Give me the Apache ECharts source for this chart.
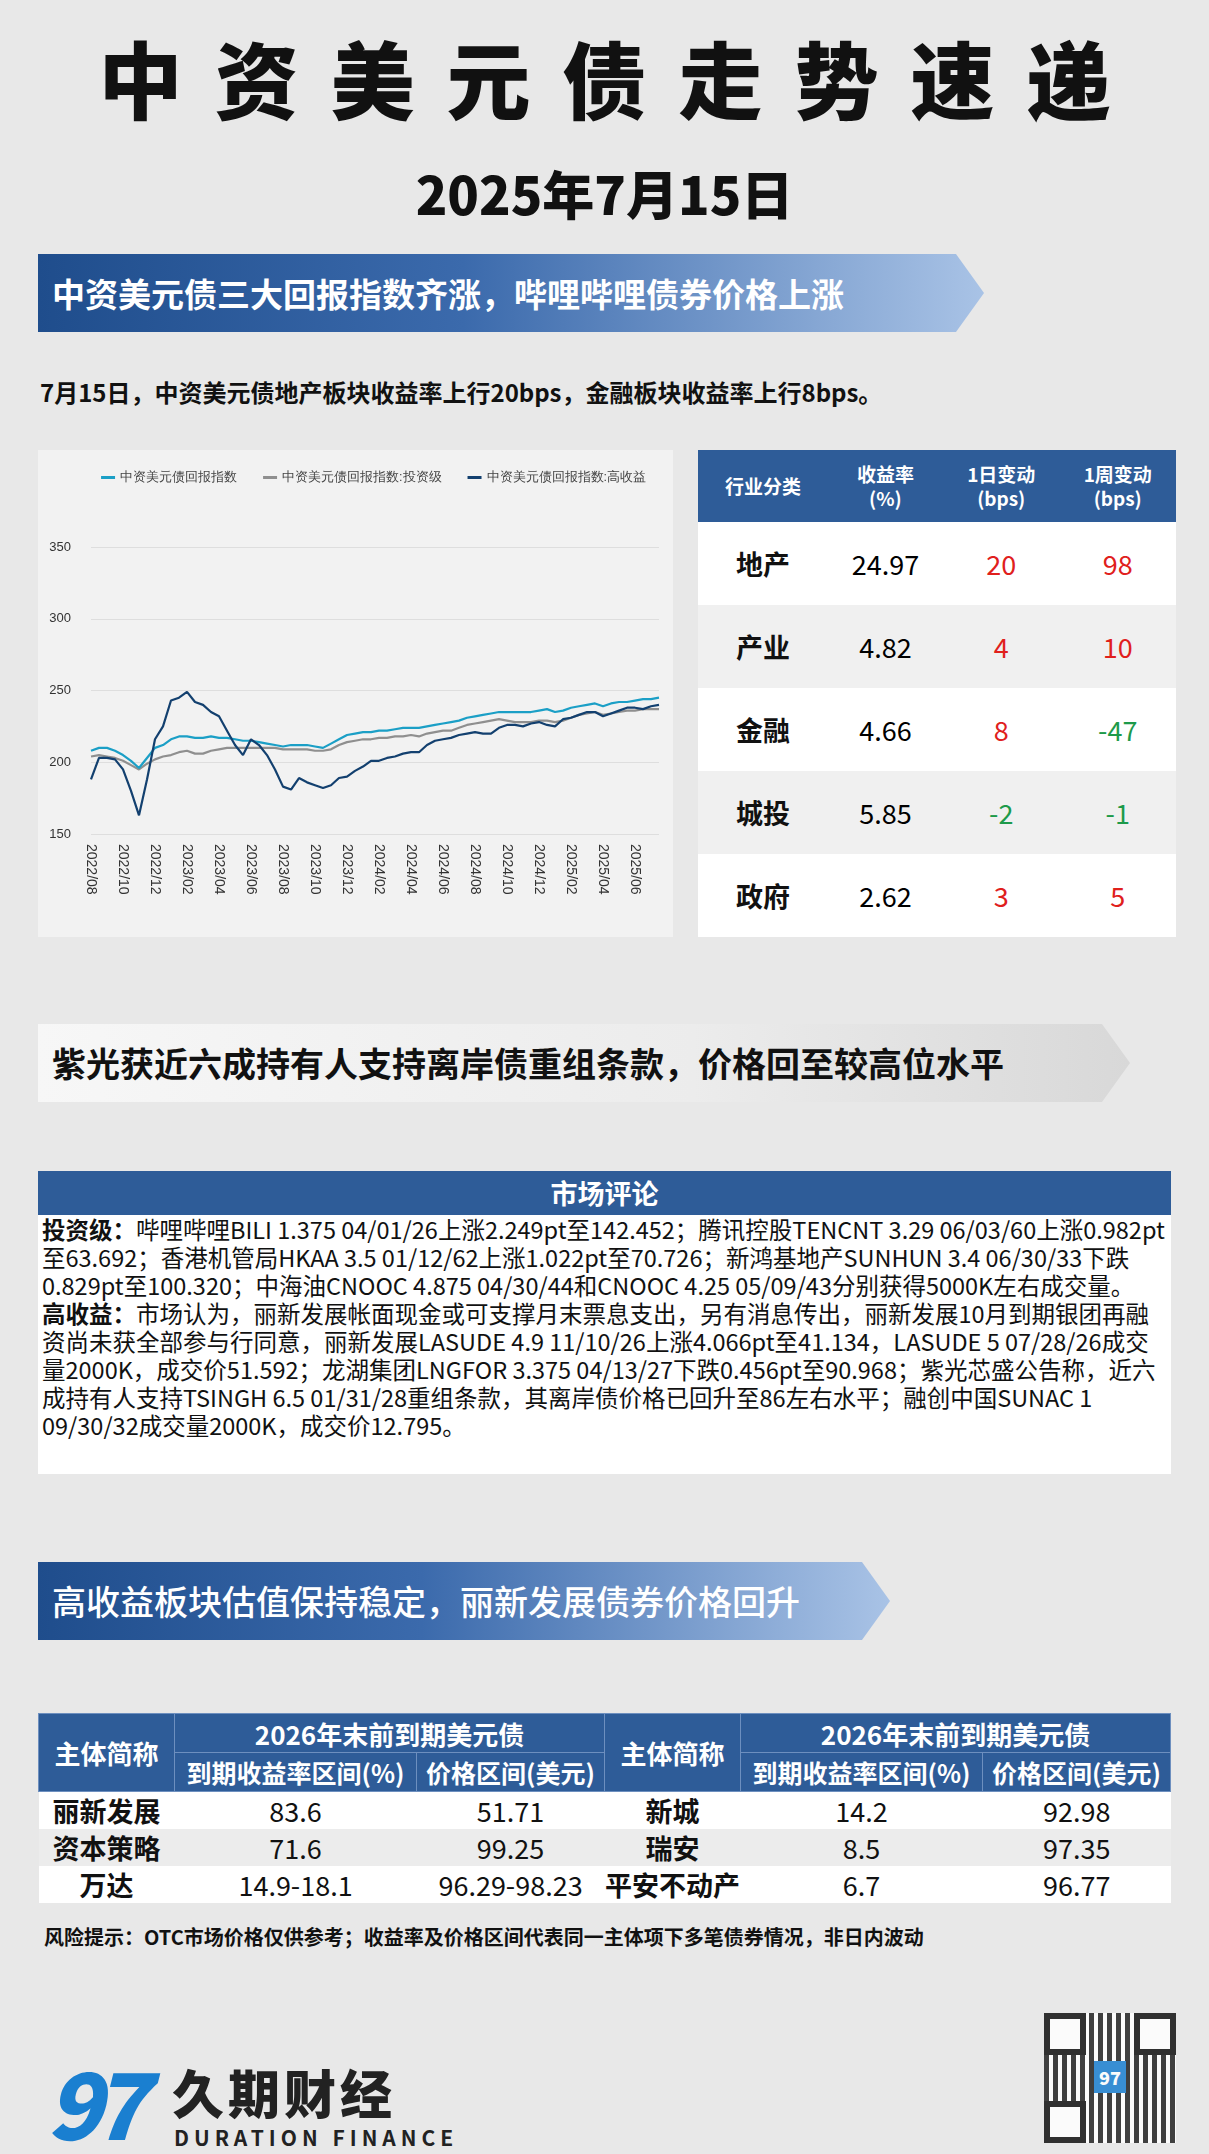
<!DOCTYPE html>
<html><head><meta charset="utf-8">
<script src="https://cdn.jsdelivr.net/npm/echarts@6/dist/echarts.min.js"></script>
<style>
body{margin:0;width:1209px;height:2154px;background:#e8e8e8;font-family:"Noto Sans CJK SC","Noto Sans",sans-serif;position:relative;overflow:hidden}
.abs{position:absolute}
.title{left:0;width:1209px;top:22px;text-align:center;font-size:84px;font-weight:900;letter-spacing:32px;text-indent:32px;color:#111;line-height:110px}
.date{left:0;width:1209px;top:158px;text-align:center;font-size:52px;font-weight:900;color:#111;line-height:70px}
.banner{height:78px;color:#fff;font-weight:700;font-size:33px;line-height:78px;padding-left:14px;box-sizing:border-box;overflow:hidden;white-space:nowrap;
 clip-path:polygon(0 0,calc(100% - 28px) 0,100% 50%,calc(100% - 28px) 100%,0 100%)}
.blue{background:linear-gradient(90deg,#1f4d8c 0%,#3b6aac 45%,#a9c3e6 100%)}
.grey{background:linear-gradient(90deg,#f7f7f7 0%,#ececec 60%,#d8d8d8 100%);color:#111}
.sub{left:40px;top:374px;font-size:24px;font-weight:700;color:#111}
table{border-collapse:collapse}
#t1{left:698px;top:450px;width:478px}
#t1 th{background:#2e5c98;color:#fff;font-size:19px;font-weight:700;height:72px;line-height:24px;padding:0}
#t1 td{height:83px;text-align:center;font-size:27px;padding:0;line-height:30px}
#t1 tr:nth-child(odd) td{background:#f0f0f0}
#t1 tr:nth-child(even) td{background:#fff}
#t1 td.n{font-weight:700;color:#111}
.up{color:#e0201c}.dn{color:#1d9a4a}
.mk{left:38px;top:1171px;width:1133px}
.mkh{background:#2e5c98;color:#fff;text-align:center;font-size:27px;font-weight:700;height:44px;line-height:44px}
.mkb{background:#fff;padding:0 4px 4px 4px;font-size:23.5px;line-height:28px;color:#111;height:259px;box-sizing:border-box}
#t2{left:38px;top:1713px;width:1133px}
#t2 th{background:#2e5c98;color:#fff;font-weight:700;font-size:25px;border:1px solid #6d8fbf;padding:0}
#t2 td{text-align:center;font-size:27px;height:37px;line-height:37px;color:#111;padding:0}
#t2 tbody tr:nth-child(odd) td{background:#fff}
#t2 tbody tr:nth-child(even) td{background:#ececec}
#t2 td.n{font-weight:700}
.risk{left:44px;top:1922px;font-size:20px;font-weight:700;color:#111}
</style></head><body>
<div class="abs title">中资美元债走势速递</div>
<div class="abs date">2025年7月15日</div>
<div class="abs banner blue" style="left:38px;top:254px;width:946px">中资美元债三大回报指数齐涨，哔哩哔哩债券价格上涨</div>
<div class="abs sub">7月15日，中资美元债地产板块收益率上行20bps，金融板块收益率上行8bps。</div>
<div class="abs" id="chart" style="left:38px;top:450px;width:635px;height:487px;background:#f2f2f2"></div>
<table class="abs" id="t1"></table>
<div class="abs banner grey" style="left:38px;top:1024px;width:1092px;font-size:34px">紫光获近六成持有人支持离岸债重组条款，价格回至较高位水平</div>
<div class="abs mk"><div class="mkh">市场评论</div><div class="mkb">
<b>投资级：</b>哔哩哔哩BILI 1.375 04/01/26上涨2.249pt至142.452；腾讯控股TENCNT 3.29 06/03/60上涨0.982pt至63.692；香港机管局HKAA 3.5 01/12/62上涨1.022pt至70.726；新鸿基地产SUNHUN 3.4 06/30/33下跌0.829pt至100.320；中海油CNOOC 4.875 04/30/44和CNOOC 4.25 05/09/43分别获得5000K左右成交量。<br>
<b>高收益：</b>市场认为，丽新发展帐面现金或可支撑月末票息支出，另有消息传出，丽新发展10月到期银团再融资尚未获全部参与行同意，丽新发展LASUDE 4.9 11/10/26上涨4.066pt至41.134，LASUDE 5 07/28/26成交量2000K，成交价51.592；龙湖集团LNGFOR 3.375 04/13/27下跌0.456pt至90.968；紫光芯盛公告称，近六成持有人支持TSINGH 6.5 01/31/28重组条款，其离岸债价格已回升至86左右水平；融创中国SUNAC 1 09/30/32成交量2000K，成交价12.795。</div></div>
<div class="abs banner blue" style="left:38px;top:1562px;width:852px;font-weight:500;font-size:34px">高收益板块估值保持稳定，丽新发展债券价格回升</div>
<table class="abs" id="t2"></table>
<div class="abs risk">风险提示：OTC市场价格仅供参考；收益率及价格区间代表同一主体项下多笔债券情况，非日内波动</div>
<div class="abs" style="left:46px;top:2050px;font-size:92px;font-weight:900;font-style:italic;color:#1a7fd0;letter-spacing:-10px;line-height:100px">97</div>
<div class="abs" style="left:172px;top:2060px;font-size:52px;font-weight:900;color:#222;letter-spacing:4px;line-height:64px">久期财经</div>
<div class="abs" style="left:174px;top:2122px;font-size:21px;font-weight:700;color:#222;letter-spacing:5px">DURATION FINANCE</div>
<div class="abs" style="left:1044px;top:2013px;width:132px;height:130px;background:repeating-linear-gradient(90deg,#222 0 5px,#fff 5px 9px),#fff;opacity:.85">
<div class="abs" style="left:0;top:0;width:30px;height:30px;border:6px solid #111;background:#fff"></div>
<div class="abs" style="right:0;top:0;width:30px;height:30px;border:6px solid #111;background:#fff"></div>
<div class="abs" style="left:0;bottom:0;width:30px;height:30px;border:6px solid #111;background:#fff"></div>
<div class="abs" style="left:50px;top:48px;width:32px;height:32px;background:#1a7fd0;color:#fff;font-size:18px;text-align:center;line-height:32px;font-weight:900">97</div>
</div>
<script>
var dates = [];
var months = ['2022/08','2022/09','2022/10','2022/11','2022/12','2023/01','2023/02','2023/03','2023/04','2023/05','2023/06','2023/07','2023/08','2023/09','2023/10','2023/11','2023/12','2024/01','2024/02','2024/03','2024/04','2024/05','2024/06','2024/07','2024/08','2024/09','2024/10','2024/11','2024/12','2025/01','2025/02','2025/03','2025/04','2025/05','2025/06','2025/07'];
months.forEach(function (m) { dates.push(m + '/01'); dates.push(m + '/15'); });
var seriesNames = ['中资美元债回报指数', '中资美元债回报指数:投资级', '中资美元债回报指数:高收益'];
var totalIdx = [208,210,210,208,205,201,196,203,210,212,216,218,218,217,217,218,217,217,216,215,215,214,213,212,211,212,212,212,211,210,213,216,219,220,221,221,222,222,223,224,224,224,225,226,227,228,229,231,232,233,234,235,235,235,235,235,236,237,235,236,238,239,240,241,239,241,242,242,243,244,244,245];
var igIdx = [204,205,204,203,201,198,195,199,202,204,205,207,208,206,206,208,209,210,210,210,210,210,210,210,209,209,209,209,208,208,209,212,214,215,216,216,217,217,218,218,219,218,220,221,222,222,224,226,227,228,229,230,229,228,228,228,229,229,228,229,231,233,234,235,233,234,235,236,236,237,237,237];
var hyIdx = [188,203,203,202,195,180,163,188,216,225,243,245,249,242,240,235,232,222,212,205,216,212,205,195,183,181,189,186,184,182,184,189,190,194,197,201,201,203,204,206,207,207,212,215,216,217,219,220,221,220,220,224,226,226,225,227,228,226,225,230,231,233,235,235,232,234,236,238,238,237,239,240];
var colors = ['#1b9fc6', '#8f8f8f', '#13406f'];

var sectors = ['地产', '产业', '金融', '城投', '政府'];
var yields = ['24.97', '4.82', '4.66', '5.85', '2.62'];
var chg1d = [20, 4, 8, -2, 3];
var chg1w = [98, 10, -47, -1, 5];

var t2Left = [['丽新发展','83.6','51.71'],['资本策略','71.6','99.25'],['万达','14.9-18.1','96.29-98.23']];
var t2Right = [['新城','14.2','92.98'],['瑞安','8.5','97.35'],['平安不动产','6.7','96.77']];

var h = '<tr><th>行业分类</th><th>收益率<br>(%)</th><th>1日变动<br>(bps)</th><th>1周变动<br>(bps)</th></tr>';
sectors.forEach(function (s, i) {
    h += '<tr><td class="n">' + s + '</td><td>' + yields[i] + '</td><td class="' + (chg1d[i] < 0 ? 'dn' : 'up') + '">' + chg1d[i] +
        '</td><td class="' + (chg1w[i] < 0 ? 'dn' : 'up') + '">' + chg1w[i] + '</td></tr>';
});
document.getElementById('t1').innerHTML = h;

var h2 = '<thead><tr><th rowspan="2" style="width:135px;font-size:26px">主体简称</th><th colspan="2" style="font-size:26px;height:38px">2026年末前到期美元债</th>' +
    '<th rowspan="2" style="width:135px;font-size:26px">主体简称</th><th colspan="2" style="font-size:26px">2026年末前到期美元债</th></tr>' +
    '<tr><th style="height:38px">到期收益率区间(%)</th><th>价格区间(美元)</th><th>到期收益率区间(%)</th><th>价格区间(美元)</th></tr></thead><tbody>';
t2Left.forEach(function (r, i) {
    var q = t2Right[i];
    h2 += '<tr><td class="n">' + r[0] + '</td><td>' + r[1] + '</td><td>' + r[2] + '</td><td class="n">' + q[0] + '</td><td>' + q[1] + '</td><td style="text-align:right;padding-right:60px">' + q[2] + '</td></tr>';
});
document.getElementById('t2').innerHTML = h2 + '</tbody>';

var myChart = echarts.init(document.getElementById('chart'));
var data = [totalIdx, igIdx, hyIdx];
myChart.setOption({
    animation: false,
    color: colors,
    legend: {
        top: 16, right: 22, itemWidth: 14, itemHeight: 3, itemGap: 26,
        icon: 'rect', textStyle: {fontSize: 12.5, color: '#444'},
        data: seriesNames
    },
    grid: {left: 53, right: 14, top: 97, bottom: 103},
    xAxis: {
        type: 'category', data: dates, boundaryGap: false,
        axisLine: {show: false}, axisTick: {show: false},
        axisLabel: {
            rotate: -90, fontSize: 14, color: '#333', margin: 10,
            interval: function (i) { return i % 4 === 0; },
            formatter: function (v) { return v.substr(0, 7); }
        }
    },
    yAxis: {
        type: 'value', min: 150, max: 350, interval: 50,
        axisLine: {show: false}, axisTick: {show: false},
        axisLabel: {fontSize: 13, color: '#333', margin: 20},
        splitLine: {lineStyle: {color: '#dedede'}}
    },
    series: seriesNames.map(function (n, i) {
        return {name: n, type: 'line', data: data[i], showSymbol: false, smooth: false,
            lineStyle: {width: 2.2}, z: i === 1 ? 1 : 2};
    })
});
</script>
</body></html>
